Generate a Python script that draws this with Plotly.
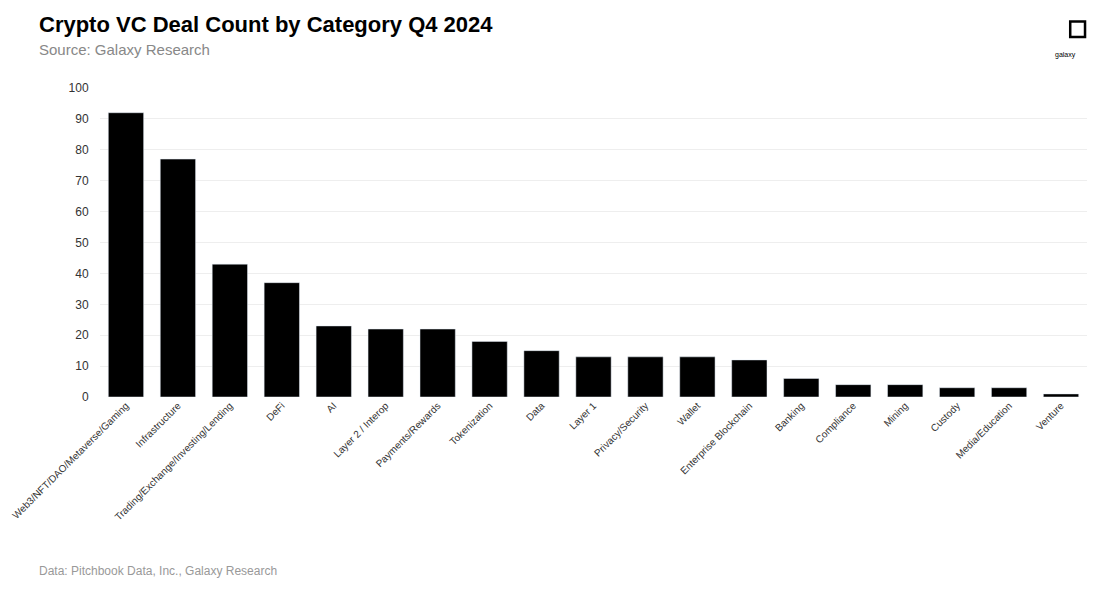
import plotly.graph_objects as go

categories = ["Web3/NFT/DAO/Metaverse/Gaming", "Infrastructure", "Trading/Exchange/Investing/Lending",
              "DeFi", "AI", "Layer 2 / Interop", "Payments/Rewards", "Tokenization", "Data", "Layer 1",
              "Privacy/Security", "Wallet", "Enterprise Blockchain", "Banking", "Compliance", "Mining",
              "Custody", "Media/Education", "Venture"]
deals = [92, 77, 43, 37, 23, 22, 22, 18, 15, 13, 13, 13, 12, 6, 4, 4, 3, 3, 1]

fig = go.Figure(go.Bar(x=categories, y=deals, marker_color="black", width=0.68))

fig.update_layout(
    width=1092, height=581, autosize=False,
    margin=dict(l=92, r=13, t=80, b=192),
    plot_bgcolor="white", paper_bgcolor="white",
    font=dict(family="Arial", color="#444", size=12),
    showlegend=False,
    xaxis=dict(tickangle=-45, showgrid=False, showline=False, ticks="", automargin=False,
               tickfont=dict(size=10, color="#333")),
    yaxis=dict(range=[0, 100], dtick=10, gridcolor="#eeeeee", zeroline=False, automargin=False,
               tickfont=dict(size=12, color="#333"), ticks="outside", ticklen=8, tickcolor="white"),
)

fig.add_annotation(text="<b>Crypto VC Deal Count by Category Q4 2024</b>", xref="paper", yref="paper",
                   x=-0.064, y=1.204, xanchor="left", yanchor="middle", showarrow=False,
                   font=dict(size=22, color="black", family="Arial"))
fig.add_annotation(text="Source: Galaxy Research", xref="paper", yref="paper",
                   x=-0.064, y=1.123, xanchor="left", yanchor="middle", showarrow=False,
                   font=dict(size=15, color="#888"))
fig.add_annotation(text="Data: Pitchbook Data, Inc., Galaxy Research", xref="paper", yref="paper",
                   x=-0.064, y=-0.563, xanchor="left", yanchor="middle", showarrow=False,
                   font=dict(size=12, color="#999"))

# galaxy logo
fig.add_shape(type="rect", xref="paper", yref="paper", x0=0.983, x1=0.998, y0=1.165, y1=1.215,
              line=dict(color="black", width=2.5), fillcolor="white")
fig.add_annotation(text="galaxy", xref="paper", yref="paper", x=0.9905, y=1.125, showarrow=False,
                   font=dict(size=7, color="black"))

fig.write_html("out.html")
